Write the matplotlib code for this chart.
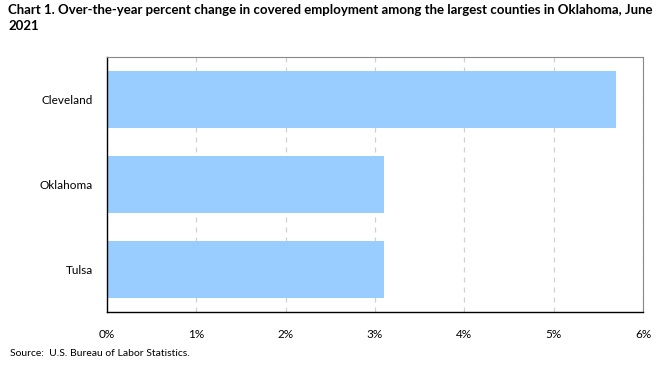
import numpy as np
import matplotlib.pyplot as plt
from matplotlib.ticker import FuncFormatter

plt.rcParams['font.family'] = ['Lato', 'DejaVu Sans']

counties = ['Cleveland', 'Oklahoma', 'Tulsa']
pct_change = [5.7, 3.1, 3.1]
xticks = [0, 1, 2, 3, 4, 5, 6]

fig = plt.figure(figsize=(6.63, 3.66), dpi=100)
W, H = 663, 366
ax = fig.add_axes([107 / W, 1 - 312 / H, (643 - 107) / W, (312 - 57) / H])

y = np.arange(len(counties))
ax.barh(y, pct_change, height=0.67, color='#99ccff', zorder=2)
ax.set_yticks(y)
ax.set_yticklabels(counties, fontsize=8.5)
ax.set_ylim(len(counties) - 0.5, -0.5)

ax.set_xlim(0, 6)
ax.set_xticks(xticks)
ax.xaxis.set_major_formatter(FuncFormatter(lambda v, p: f'{v:.0f}%'))
ax.tick_params(axis='x', labelsize=8.5, length=0, pad=12)
ax.tick_params(axis='y', length=0, pad=10)
ax.grid(axis='x', color='#d0d0d0', linestyle=(0, (4, 4)), linewidth=0.9, zorder=1)

for side in ['top', 'right']:
    ax.spines[side].set_color('#888888')
    ax.spines[side].set_linewidth(0.8)
for side in ['bottom', 'left']:
    ax.spines[side].set_color('black')
    ax.spines[side].set_linewidth(1.0)

fig.text(8 / W, 1 - 4 / H,
         'Chart 1. Over-the-year percent change in covered employment among the largest counties in Oklahoma, June\n2021',
         fontsize=9.5, fontweight='bold', va='top', ha='left', linespacing=1.45)
fig.text(10 / W, 1 - 353 / H, 'Source:  U.S. Bureau of Labor Statistics.',
         fontsize=7.5, va='center', ha='left')

fig.savefig('out.png', dpi=100)
